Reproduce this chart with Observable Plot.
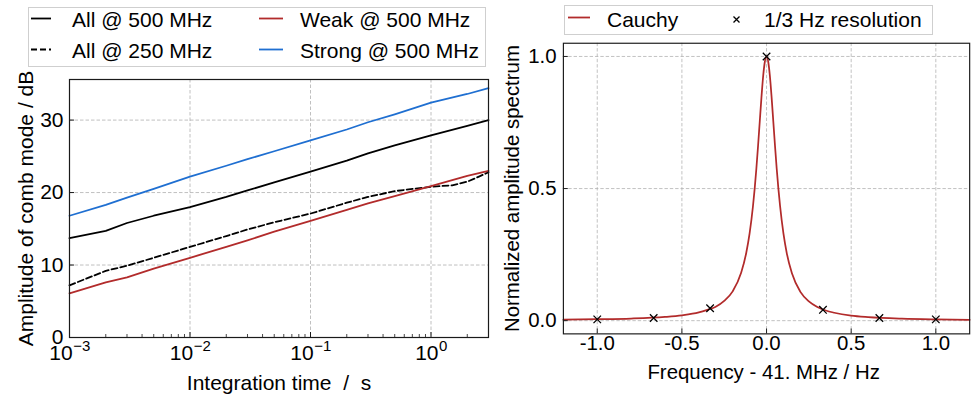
<!DOCTYPE html>
<html><head><meta charset="utf-8">
<script src="https://cdn.jsdelivr.net/npm/d3@7"></script>
<script src="https://cdn.jsdelivr.net/npm/@observablehq/plot@0.6"></script>
<style>
html,body{margin:0;padding:0;background:#fff;overflow:hidden}
#wrap{position:relative;width:976px;height:394px;overflow:hidden;font-family:"Liberation Sans",Arial,sans-serif}
#left,#right,.legend{position:absolute}
#left{left:0;top:0}
#right{left:490px;top:0}
svg{font-family:"Liberation Sans",Arial,sans-serif}
svg text{white-space:pre}
</style></head><body>
<div id="wrap">
<div id="left"></div><div id="right"></div>
<svg class="legend" style="left:28px;top:7px" width="458" height="60">
  <rect x="0.5" y="0.5" width="457" height="59" fill="#fff" stroke="#cfcfcf"/>
  <line x1="3" x2="23" y1="11.5" y2="11.5" stroke="#000" stroke-width="1.8"/>
  <text x="44" y="20" font-size="21">All @ 500 MHz</text>
  <line x1="3" x2="23" y1="42.5" y2="42.5" stroke="#000" stroke-width="1.8" stroke-dasharray="6,3"/>
  <text x="44" y="51" font-size="21">All @ 250 MHz</text>
  <line x1="231" x2="255" y1="11.5" y2="11.5" stroke="#b22b2b" stroke-width="1.8"/>
  <text x="272" y="20" font-size="21">Weak @ 500 MHz</text>
  <line x1="231" x2="255" y1="42.5" y2="42.5" stroke="#1f6fd1" stroke-width="1.8"/>
  <text x="272" y="51" font-size="21">Strong @ 500 MHz</text>
</svg>
<svg class="legend" style="left:564px;top:5px" width="369" height="30">
  <rect x="0.5" y="0.5" width="368" height="29" fill="#fff" stroke="#cfcfcf"/>
  <line x1="4" x2="26" y1="12.5" y2="12.5" stroke="#b22b2b" stroke-width="1.8"/>
  <text x="43" y="21.5" font-size="21">Cauchy</text>
  <path d="M169.5,11.5l6,6M175.5,11.5l-6,6" stroke="#000" stroke-width="1.3" fill="none"/>
  <text x="200" y="21.5" font-size="21">1/3 Hz resolution</text>
</svg>
</div>
<script>
// ---------- Left panel data ----------
const timeS        = [0.001,0.002,0.003,0.005,0.01,0.02,0.03,0.05,0.1,0.2,0.3,0.5,1,2,3];
const allAt500     = [13.7,14.7,15.8,16.8,18.0,19.4,20.3,21.4,22.9,24.4,25.4,26.5,27.9,29.2,30.0];
const weakAt500    = [6.1,7.6,8.3,9.5,11.0,12.5,13.4,14.6,16.1,17.6,18.5,19.5,20.9,22.3,23.0];
const strongAt500  = [16.8,18.3,19.3,20.5,22.2,23.7,24.6,25.7,27.2,28.7,29.7,30.8,32.4,33.6,34.4];
const time250S     = [0.001,0.002,0.003,0.005,0.01,0.02,0.03,0.05,0.1,0.2,0.3,0.5,1,1.5,2,2.5,3];
const allAt250     = [7.2,9.2,9.9,11.0,12.5,14.0,14.9,15.9,17.1,18.6,19.4,20.2,20.8,21.0,21.5,22.2,22.8];
const xDecades     = [0.001,0.01,0.1,1];
const xDecadeExps  = ["\u22123","\u22122","\u22121","0"];
const yTicksLeft   = [0,10,20,30];
const yTickLabelsLeft = ["0","10","20","30"];

// ---------- Right panel data ----------
const freqHz = [-1.2,-1.0,-0.8,-0.6,-0.5,-0.4,-0.35,-0.3,-0.25,-0.2,-0.15,-0.12,-0.1,-0.08,-0.07,-0.06,-0.05,-0.04,-0.03,-0.02,-0.01,0,
                0.01,0.02,0.03,0.04,0.05,0.06,0.07,0.08,0.1,0.12,0.15,0.2,0.25,0.3,0.35,0.4,0.5,0.6,0.8,1.0,1.2];
const cauchyAmp = [0.004,0.0055,0.008,0.014,0.020,0.031,0.041,0.053,0.075,0.111,0.181,0.256,0.330,0.434,0.5,0.576,0.662,0.754,0.845,0.925,0.980,1.0,
                0.980,0.925,0.845,0.754,0.662,0.576,0.5,0.434,0.329,0.254,0.179,0.109,0.073,0.052,0.0385,0.030,0.019,0.0134,0.0076,0.0049,0.0034];
const sampleHz  = [-1,-2/3,-1/3,0,1/3,2/3,1];
const sampleAmp = [0.005,0.010,0.047,1.0,0.041,0.010,0.005];
const xTicksRight = [-1,-0.5,0,0.5,1];
const xTickLabelsRight = ["-1.0","-0.5","0.0","0.5","1.0"];
const yTicksRight = [0,0.5,1];
const yTickLabelsRight = ["0.0","0.5","1.0"];

const RED = "#b22b2b", BLUE = "#1f6fd1", GRID = "#b0b0b0", FRAME = "#1a1a1a";
const FS = 21;
const gridStyle = {stroke: GRID, strokeOpacity: 1, strokeWidth: 0.8, strokeDasharray: "3.5,2"};

// ---------- Left plot ----------
const LW = 490, LH = 394, LML = 69, LMR = 2, LMT = 79, LMB = 57;
const lInnerW = LW - LML - LMR, lInnerH = LH - LMT - LMB;
const tab = (xs, ys) => xs.map((x, i) => ({x, y: ys[i]}));
const minorX = [];
for (const d of xDecades) for (let k = 2; k <= 9; k++) { const v = d * k; if (v <= 3) minorX.push(v); }

const baseW = FS * 1.112, supFS = 15;
const decadeLabelMarks = xDecades.flatMap((v, i) => {
  const e = xDecadeExps[i];
  const expW = supFS * ((e.startsWith("\u2212") ? 0.584 : 0) + 0.556);
  const endX = baseW - (baseW + expW) / 2;
  return [
    Plot.text([v], {x: d => d, text: () => "10", frameAnchor: "bottom", dy: 16, dx: endX, textAnchor: "end", lineAnchor: "middle", fontSize: FS}),
    Plot.text([v], {x: d => d, text: () => e, frameAnchor: "bottom", dy: 8.5, dx: endX + 0.5, textAnchor: "start", lineAnchor: "middle", fontSize: supFS})
  ];
});

const left = Plot.plot({
  width: LW, height: LH, marginLeft: LML, marginRight: LMR, marginTop: LMT, marginBottom: LMB,
  style: {fontFamily: "Liberation Sans, Arial, sans-serif", background: "transparent", overflow: "visible"},
  x: {type: "log", domain: [1e-3, 3], axis: null},
  y: {domain: [0, 35.6], axis: null},
  marks: [
    Plot.gridX(xDecades, gridStyle),
    Plot.gridY(yTicksLeft, gridStyle),
    Plot.line(tab(timeS, strongAt500), {x: "x", y: "y", stroke: BLUE, strokeWidth: 1.8}),
    Plot.line(tab(timeS, allAt500), {x: "x", y: "y", stroke: "#000", strokeWidth: 1.8}),
    Plot.line(tab(time250S, allAt250), {x: "x", y: "y", stroke: "#000", strokeWidth: 1.8, strokeDasharray: "6,3"}),
    Plot.line(tab(timeS, weakAt500), {x: "x", y: "y", stroke: RED, strokeWidth: 1.8}),
    Plot.tickX(xDecades, {x: d => d, insetTop: lInnerH - 5, stroke: FRAME, strokeWidth: 1}),
    Plot.tickX(minorX, {x: d => d, insetTop: lInnerH - 3, stroke: FRAME, strokeWidth: 0.8}),
    Plot.tickY(yTicksLeft, {y: d => d, insetRight: lInnerW - 5, stroke: FRAME, strokeWidth: 1}),
    Plot.frame({stroke: FRAME, strokeWidth: 1.2}),
    Plot.text(yTicksLeft, {y: d => d, text: (d, i) => yTickLabelsLeft[i], frameAnchor: "left", dx: -6, textAnchor: "end", lineAnchor: "middle", fontSize: FS}),
    ...decadeLabelMarks,
    Plot.text(["Integration time  /  s"], {text: d => d, frameAnchor: "bottom", dy: 46, textAnchor: "middle", lineAnchor: "middle", fontSize: FS}),
    Plot.text(["Amplitude of comb mode / dB"], {text: d => d, frameAnchor: "left", dx: -43, rotate: -90, textAnchor: "middle", lineAnchor: "middle", fontSize: FS})
  ]
});
document.getElementById("left").append(left);

// ---------- Right plot ----------
const RW = 500, RH = 394, RML = 75, RMR = 7, RMT = 44, RMB = 51;
const rInnerW = RW - RML - RMR, rInnerH = RH - RMT - RMB;
const right = Plot.plot({
  width: RW, height: RH, marginLeft: RML, marginRight: RMR, marginTop: RMT, marginBottom: RMB,
  style: {fontFamily: "Liberation Sans, Arial, sans-serif", background: "transparent", overflow: "visible"},
  x: {domain: [-1.2, 1.2], axis: null},
  y: {domain: [-0.05, 1.05], axis: null},
  marks: [
    Plot.gridX(xTicksRight, gridStyle),
    Plot.gridY(yTicksRight, gridStyle),
    Plot.line(tab(freqHz, cauchyAmp), {x: "x", y: "y", stroke: RED, strokeWidth: 1.8, curve: "monotone-x"}),
    Plot.dot(tab(sampleHz, sampleAmp), {x: "x", y: "y", symbol: "times", r: 3.6, stroke: "#000", strokeWidth: 1.3}),
    Plot.tickX(xTicksRight, {x: d => d, insetTop: rInnerH - 5, stroke: FRAME, strokeWidth: 1}),
    Plot.tickY(yTicksRight, {y: d => d, insetRight: rInnerW - 5, stroke: FRAME, strokeWidth: 1}),
    Plot.frame({stroke: FRAME, strokeWidth: 1.2}),
    Plot.text(yTicksRight, {y: d => d, text: (d, i) => yTickLabelsRight[i], frameAnchor: "left", dx: -7, textAnchor: "end", lineAnchor: "middle", fontSize: FS}),
    Plot.text(xTicksRight, {x: d => d, text: (d, i) => xTickLabelsRight[i], frameAnchor: "bottom", dy: 10, lineAnchor: "middle", fontSize: FS}),
    Plot.text(["Frequency - 41. MHz / Hz"], {text: d => d, frameAnchor: "bottom", dy: 40, dx: -3, textAnchor: "middle", lineAnchor: "middle", fontSize: FS}),
    Plot.text(["Normalized amplitude spectrum"], {text: d => d, frameAnchor: "left", dx: -52, rotate: -90, textAnchor: "middle", lineAnchor: "middle", fontSize: FS})
  ]
});
document.getElementById("right").append(right);
</script>
</body></html>
